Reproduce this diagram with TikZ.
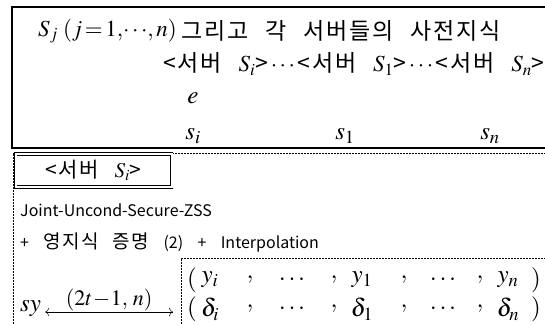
\documentclass[tikz,border=0pt]{standalone}
\usepackage{mathptmx}
\usepackage{fontspec}
\newfontfamily\kr[WordSpace=4]{Noto Sans CJK KR}
\newfontfamily\krw[LetterSpace=8, WordSpace=2.4]{Noto Sans CJK KR}
\usetikzlibrary{arrows.meta, positioning}

\begin{document}
\begin{tikzpicture}[
    x=1pt, y=-1pt,
    every node/.style={inner sep=0pt},
    toptext/.style={font=\krw\fontsize{23}{26}\selectfont, anchor=west},
    lowtext/.style={font=\kr\fontsize{16}{19}\selectfont, anchor=west},
    mathbig/.style={font=\fontsize{25}{29}\selectfont},
    dotline/.style={line width=0.8pt, dash pattern=on 2pt off 1pt},
    arrow/.style={{To[length=4pt]}-{To[length=4pt]}, line width=0.5pt}
]
\useasboundingbox (0,0) rectangle (545,324);
\clip (0,0) rectangle (545,324);

% ============ PRIOR KNOWLEDGE (TOP BOX) ============
\draw[line width=1.6pt] (12,7) rectangle (570,148);
\node[mathbig, anchor=west, font=\fontsize{23}{27}\selectfont] (given) at (38,31)
    {$S_j\;(j\!=\!1,\!\cdots\!,n)$};
\node[toptext] (prior) at (181,31) {그리고 각 서버들의 사전지식};
\node[toptext] (servers) at (163,64)
    {<서버 $S_i$>$\,\cdots\,$<서버 $S_1$>$\,\cdots\,$<서버 $S_n$>};
\node[mathbig] (e) at (193,98) {$e$};
\node[mathbig] (si) at (193,136) {$s_i$};
\node[mathbig] (s1) at (345,136) {$s_1$};
\node[mathbig] (sn) at (490,136) {$s_n$};

% ============ SERVER S_i (LOWER BOX) ============
\draw[dotline] (570,153) -- (13,153) -- (13,330);
\node[draw, double, double distance=2pt, line width=0.6pt,
      minimum width=156pt, minimum height=33pt,
      font=\krw\fontsize{21}{24}\selectfont] (srv) at (93.5,170.5) {<서버 $S_i$>};

\node[lowtext] (zss) at (20,210) {Joint-Uncond-Secure-ZSS};
\node[lowtext] (proof) at (20,242)
    {+ {\krw\fontsize{19}{22}\selectfont 영지식 증명} (2) + Interpolation};

% Shares
\draw[dotline] (181,330) -- (181,258) -- (570,258);
\coordinate (boxleft) at (173,312);
\node[mathbig, anchor=west] (sy) at (20,309) {$sy$};
\draw[arrow] (sy.east) ++(4,3) coordinate (arrl) -- (boxleft)
    node[midway, above=1pt, font=\fontsize{22}{26}\selectfont] (tn) {$(2t\!-\!1,\,n)$};

\foreach \x/\a/\b in {192/(/(, 210/y_i/\delta_i, 250/{,}/{,}, 292/\cdots/\cdots,
                      334/{,}/{,}, 362/y_1/\delta_1, 404/{,}/{,}, 443/\cdots/\cdots,
                      480/{,}/{,}, 508/y_n/\delta_n, 536/)/)} {
    \node[mathbig] (y\x) at (\x,280) {$\a$};
    \node[mathbig] (d\x) at (\x,309) {$\b$};
}

\end{tikzpicture}
\end{document}
